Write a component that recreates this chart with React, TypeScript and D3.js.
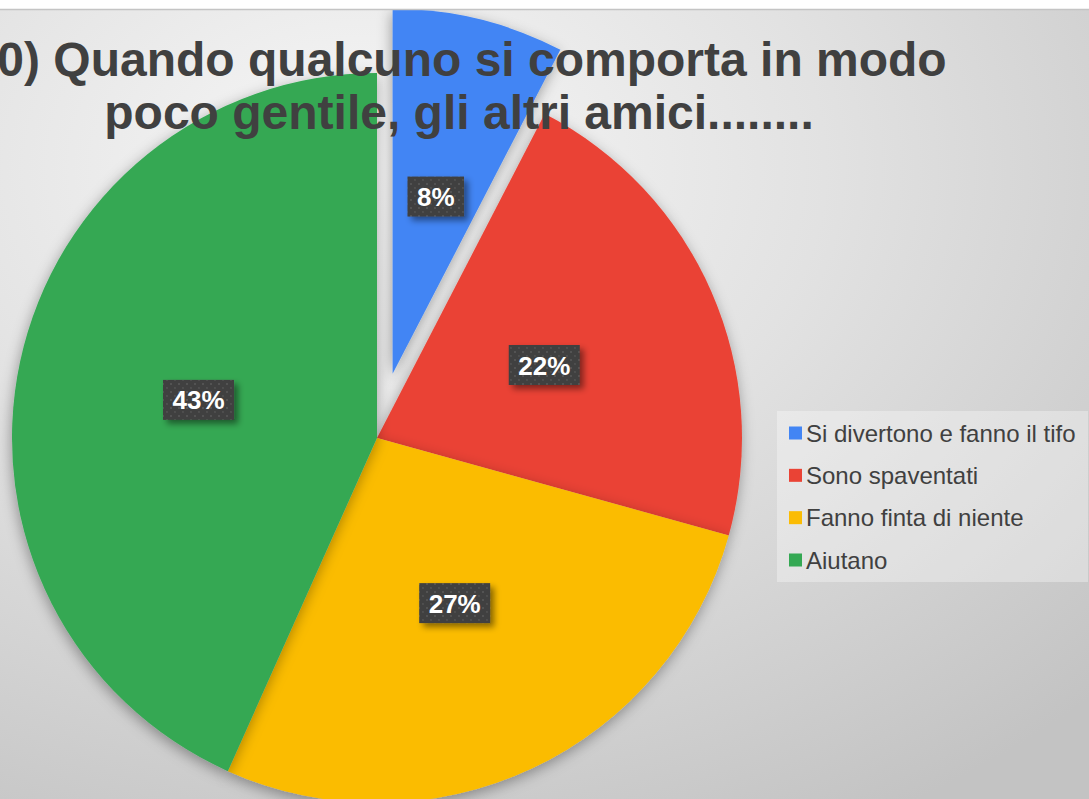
import React from 'react';
import * as d3 from 'd3';

const categories = ['Si divertono e fanno il tifo', 'Sono spaventati', 'Fanno finta di niente', 'Aiutano'];
const values = [7.6, 21.7, 27.4, 43.3];
const colors = ['#4285F4', '#EA4335', '#FBBC04', '#34A853'];
const exploded = [true, false, false, false];
const titleLines = ['0) Quando qualcuno si comporta in modo', 'poco gentile, gli altri amici........'];

const W = 1089;
const H = 799;

export default function App() {
  const cx = 377;
  const cy = 438;
  const R = 365;
  const explodeDist = 66;
  const total = d3.sum(values);
  const pie = d3.pie<number>().sort(null).startAngle(0).endAngle(2 * Math.PI);
  const arcs = pie(values);
  const arc = d3.arc<d3.PieArcDatum<number>>().innerRadius(0).outerRadius(R);
  const fmt = d3.format('.0%');

  const offsetOf = (a: d3.PieArcDatum<number>, i: number) => {
    if (!exploded[i]) return [0, 0];
    const mid = (a.startAngle + a.endAngle) / 2;
    return [Math.sin(mid) * explodeDist, -Math.cos(mid) * explodeDist];
  };

  const labelFont = 26;
  const charW = (s: string) => {
    let w = 0;
    for (const ch of s) w += ch === '%' ? 0.889 : 0.556;
    return w * labelFont;
  };

  const legendX = 777;
  const legendY = 411;
  const legendW = 311;
  const legendH = 171;
  const rowY = d3.scalePoint<number>().domain(d3.range(categories.length)).range([433, 560]);

  return (
    <svg width={W} height={H} style={{ position: 'absolute', left: 0, top: 0 }} xmlns="http://www.w3.org/2000/svg">
      <defs>
        <radialGradient id="bg" cx="0.33" cy="0.2" r="0.95" fx="0.33" fy="0.2">
          <stop offset="0" stopColor="#f7f7f7" />
          <stop offset="0.45" stopColor="#e2e2e2" />
          <stop offset="1" stopColor="#c3c3c3" />
        </radialGradient>
        <filter id="pieShadow" x="-20%" y="-20%" width="140%" height="140%">
          <feDropShadow dx="-1" dy="4" stdDeviation="7" floodColor="#000" floodOpacity="0.35" />
        </filter>
        <filter id="boxShadow" x="-30%" y="-30%" width="170%" height="170%">
          <feDropShadow dx="4" dy="4" stdDeviation="3" floodColor="#000" floodOpacity="0.45" />
        </filter>
        <pattern id="dots" width="8" height="8" patternUnits="userSpaceOnUse">
          <rect width="8" height="8" fill="#404040" />
          <circle cx="2" cy="2" r="0.9" fill="#5a5a5a" />
          <circle cx="6" cy="6" r="0.9" fill="#555555" />
        </pattern>
        <clipPath id="area">
          <rect x={0} y={10} width={W} height={H - 10} />
        </clipPath>
      </defs>
      <rect x={0} y={0} width={W} height={H} fill="#ffffff" />
      <g clipPath="url(#area)">
        <rect x={0} y={10} width={W} height={H - 10} fill="url(#bg)" />
        <g transform={`translate(${cx},${cy})`}>
          {arcs.map((a, i) => {
            const [ox, oy] = offsetOf(a, i);
            return (
              <path
                key={i}
                d={arc(a) || ''}
                transform={`translate(${ox},${oy})`}
                fill={colors[i]}
                filter="url(#pieShadow)"
              />
            );
          })}
        </g>
      </g>
      <line x1={0} x2={W} y1={9.5} y2={9.5} stroke="#c4c4c4" strokeWidth={1.5} />
      <g fontFamily="'Liberation Sans', Arial, sans-serif" fontWeight="bold" fontSize={48} fill="#404040">
        <text x={472} y={76} textAnchor="middle">{titleLines[0]}</text>
        <text x={459} y={129} textAnchor="middle">{titleLines[1]}</text>
      </g>
      <g transform={`translate(${cx},${cy})`}>
        {arcs.map((a, i) => {
          const [ox, oy] = offsetOf(a, i);
          const [lx, ly] = arc.centroid(a);
          const txt = fmt(values[i] / total);
          const bw = charW(txt) + 19;
          const bh = 40;
          const x = lx + ox;
          const y = ly + oy;
          return (
            <g key={i}>
              <rect x={x - bw / 2} y={y - bh / 2} width={bw} height={bh} fill="url(#dots)" filter="url(#boxShadow)" />
              <text
                x={x}
                y={y + 9.5}
                textAnchor="middle"
                fontFamily="'Liberation Sans', Arial, sans-serif"
                fontWeight="bold"
                fontSize={labelFont}
                fill="#ffffff"
              >
                {txt}
              </text>
            </g>
          );
        })}
      </g>
      <g>
        <rect x={legendX} y={legendY} width={legendW} height={legendH} fill="#ffffff" fillOpacity={0.33} />
        {categories.map((c, i) => (
          <g key={c}>
            <rect x={789} y={(rowY(i) as number) - 6.5} width={13} height={13} fill={colors[i]} />
            <text
              x={806}
              y={(rowY(i) as number) + 8.5}
              fontFamily="'Liberation Sans', Arial, sans-serif"
              fontSize={24}
              fill="#404040"
            >
              {c}
            </text>
          </g>
        ))}
      </g>
    </svg>
  );
}
